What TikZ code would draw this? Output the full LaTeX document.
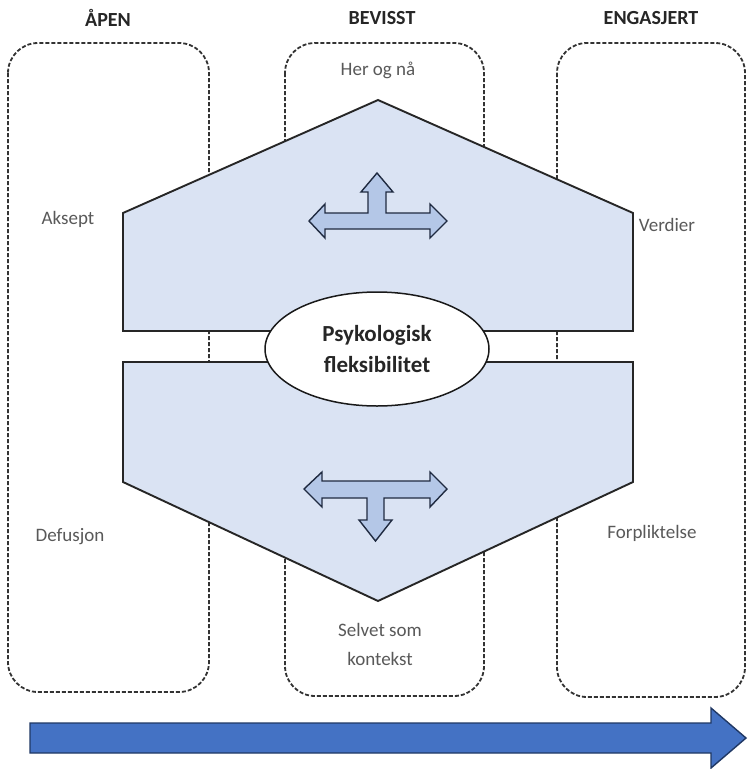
\documentclass[tikz,border=0pt]{standalone}
\usepackage{fontspec}
\setmainfont{Carlito}
\usetikzlibrary{shapes.geometric}
\definecolor{shapefill}{HTML}{DAE3F3}
\definecolor{arrowfill}{HTML}{B4C7E7}
\definecolor{arrowline}{HTML}{1F2A40}
\definecolor{bigblue}{HTML}{4472C4}
\definecolor{bigline}{HTML}{203864}
\definecolor{labelgrey}{HTML}{595959}
\tikzset{
  dashbox/.style={draw=black!80, line width=1.8pt, dash pattern=on 4pt off 2pt, rounded corners=30pt},
  hexpart/.style={draw=black!85, line width=1.9pt, fill=shapefill, line join=miter},
  smallarrow/.style={draw=arrowline, line width=1.4pt, fill=arrowfill, line join=miter},
  bigarrow/.style={draw=bigline, line width=1.4pt, fill=bigblue, line join=miter},
  heading/.style={font=\fontsize{20}{24}\selectfont\bfseries, text=black!85},
  lbl/.style={font=\fontsize{19}{23}\selectfont, text=labelgrey, align=center},
  core/.style={ellipse, draw=black!90, line width=1.5pt, fill=white, minimum width=224pt, minimum height=114pt, inner sep=0pt, align=center, font=\fontsize{23}{31}\selectfont\bfseries, text=black!85}
}
\begin{document}
\begin{tikzpicture}[x=1pt,y=-1pt]
\useasboundingbox (0,0) rectangle (748,769);
\fill[white] (0,0) rectangle (748,769);
% dashed column boxes
\draw[dashbox] (8,43) rectangle (209,692);
\draw[dashbox] (285,43) rectangle (484,696);
\draw[dashbox] (557,43) rectangle (745,697);
% headings
\node[heading] (hapen) at (108,18) {ÅPEN};
\node[heading] (hbev) at (382,18) {BEVISST};
\node[heading] (heng) at (651,18) {ENGASJERT};
% hexagon halves
\draw[hexpart] (123,213) -- (378,100) -- (633,213) -- (633,331) -- (123,331) -- cycle;
\draw[hexpart] (123,362) -- (633,362) -- (633,482) -- (378,601) -- (123,482) -- cycle;
% centre ellipse
\node[core] (core) at (377,349) {Psykologisk\\fleksibilitet};
% top T arrow
\draw[smallarrow] (309,221) -- (325,204) -- (325,213) -- (368,213) -- (368,192) -- (361,192) -- (377,173) -- (393,192) -- (386,192) -- (386,213) -- (430,213) -- (430,204) -- (447,221) -- (430,238) -- (430,229) -- (325,229) -- (325,238) -- cycle;
% bottom T arrow
\draw[smallarrow] (304,489) -- (322,472) -- (322,481) -- (430,481) -- (430,472) -- (447,489) -- (430,507) -- (430,498) -- (384,498) -- (384,520) -- (392,520) -- (375.5,541) -- (359,520) -- (367,520) -- (367,498) -- (322,498) -- (322,507) -- cycle;
% labels
\node[lbl] (herog) at (378,70) {Her og nå};
\node[lbl] (aksept) at (68,219) {Aksept};
\node[lbl] (verdier) at (667,225) {Verdier};
\node[lbl] (defusjon) at (70,537) {Defusjon};
\node[lbl] (forplikt) at (652,533) {Forpliktelse};
\node[lbl] (selvet) at (380,644) {Selvet som\\[6pt]kontekst};
% big arrow
\draw[bigarrow] (30,723) -- (711,723) -- (711,708) -- (746,738) -- (711,768) -- (711,753) -- (30,753) -- cycle;
\end{tikzpicture}
\end{document}
